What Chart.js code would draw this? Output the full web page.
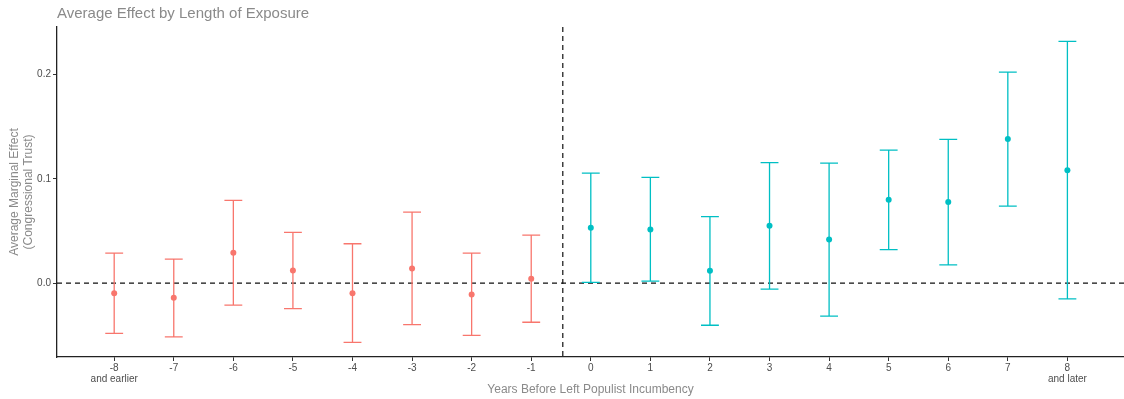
<!DOCTYPE html>
<html>
<head>
<meta charset="utf-8">
<script src="https://cdn.jsdelivr.net/npm/chart.js@4"></script>
<style>
  html, body { margin: 0; padding: 0; background: #fff; overflow: hidden; }
  #wrap { width: 1124px; height: 399px; }
</style>
</head>
<body>
<div id="wrap"><canvas id="effects"></canvas></div>
<script>
// years relative to incumbency start, point estimates and 95% bounds
var years = [-8, -7, -6, -5, -4, -3, -2, -1, 0, 1, 2, 3, 4, 5, 6, 7, 8]
var estimate = [-0.0096, -0.0140, 0.0291, 0.0122, -0.0096, 0.0141, -0.0108, 0.0042,
  0.0531, 0.0515, 0.0119, 0.0550, 0.0418, 0.0800, 0.0777, 0.1380, 0.1083]
var lower = [-0.0480, -0.0514, -0.0211, -0.0243, -0.0566, -0.0396, -0.0499, -0.0374,
  0.0007, 0.0019, -0.0403, -0.0057, -0.0316, 0.0322, 0.0176, 0.0738, -0.0150]
var upper = [0.0288, 0.0230, 0.0793, 0.0486, 0.0378, 0.0681, 0.0288, 0.0460,
  0.1055, 0.1013, 0.0637, 0.1154, 0.1150, 0.1275, 0.1378, 0.2022, 0.2317]
var xTickLabels = [['-8', 'and earlier'], '-7', '-6', '-5', '-4', '-3', '-2', '-1',
  '0', '1', '2', '3', '4', '5', '6', '7', ['8', 'and later']]
var yTickValues = [0, 0.1, 0.2]
var yTickLabels = ['0.0', '0.1', '0.2']
var cutoff = -0.47

var RED = '#F8766D'
var TEAL = '#00BFC4'
var GREY = '#8a8a8a'
var FONT = '"Liberation Sans", Arial, sans-serif'

function colorFor(year) { return year < 0 ? RED : TEAL }

var before = [], after = []
years.forEach(function (y, i) {
  (y < 0 ? before : after).push({ x: y, y: estimate[i] })
})

var errorBars = {
  id: 'errorBars',
  beforeDatasetsDraw: function (chart) {
    var ctx = chart.ctx, xs = chart.scales.x, ys = chart.scales.y, a = chart.chartArea
    ctx.save()
    // reference lines
    ctx.strokeStyle = '#111'
    ctx.lineWidth = 1.2
    ctx.setLineDash([5, 4])
    var y0 = ys.getPixelForValue(0)
    ctx.beginPath(); ctx.moveTo(a.left, y0); ctx.lineTo(a.right, y0); ctx.stroke()
    var xc = xs.getPixelForValue(cutoff)
    ctx.beginPath(); ctx.moveTo(xc, a.top); ctx.lineTo(xc, a.bottom); ctx.stroke()
    ctx.setLineDash([])
    // whiskers
    ctx.lineWidth = 1.3
    years.forEach(function (yr, i) {
      var x = xs.getPixelForValue(yr)
      var half = x - xs.getPixelForValue(yr - 0.15)
      var top = ys.getPixelForValue(upper[i])
      var bot = ys.getPixelForValue(lower[i])
      ctx.strokeStyle = colorFor(yr)
      ctx.beginPath()
      ctx.moveTo(x, top); ctx.lineTo(x, bot)
      ctx.moveTo(x - half, top); ctx.lineTo(x + half, top)
      ctx.moveTo(x - half, bot); ctx.lineTo(x + half, bot)
      ctx.stroke()
    })
    ctx.restore()
  },
  afterDraw: function (chart) {
    var ctx = chart.ctx, a = chart.chartArea
    ctx.save()
    ctx.fillStyle = GREY
    ctx.textBaseline = 'alphabetic'
    ctx.textAlign = 'left'
    ctx.font = '15px ' + FONT
    ctx.fillText('Average Effect by Length of Exposure', a.left, 18)
    ctx.font = '12px ' + FONT
    ctx.textAlign = 'center'
    ctx.fillText('Years Before Left Populist Incumbency', (a.left + a.right) / 2, 393)
    ctx.translate(0, (a.top + a.bottom) / 2)
    ctx.rotate(-Math.PI / 2)
    ctx.textBaseline = 'middle'
    ctx.fillText('Average Marginal Effect', 0, 15)
    ctx.fillText('(Congressional Trust)', 0, 29)
    ctx.restore()
  }
}

new Chart(document.getElementById('effects').getContext('2d'), {
  type: 'scatter',
  data: {
    datasets: [
      { data: before, backgroundColor: RED, borderColor: RED, pointRadius: 3, borderWidth: 0 },
      { data: after, backgroundColor: TEAL, borderColor: TEAL, pointRadius: 3, borderWidth: 0 }
    ]
  },
  options: {
    responsive: true,
    maintainAspectRatio: false,
    animation: false,
    layout: { autoPadding: false, padding: { top: 27, right: 0, left: 0, bottom: 0 } },
    scales: {
      x: {
        type: 'linear',
        min: -8.96,
        max: 8.95,
        afterFit: function (s) {
          s.height = 42
          s.paddingLeft = 0
          s.paddingRight = 0
        },
        afterBuildTicks: function (s) {
          s.ticks = years.map(function (v) { return { value: v } })
        },
        grid: { display: true, drawOnChartArea: false, tickLength: 4, color: '#333', tickWidth: 1 },
        border: { display: true, color: '#222', width: 1.3 },
        ticks: {
          padding: 1,
          color: '#4d4d4d',
          font: { size: 10, family: FONT, lineHeight: 1.15 },
          maxRotation: 0,
          autoSkip: false,
          callback: function (v) { return xTickLabels[years.indexOf(v)] }
        }
      },
      y: {
        min: -0.0707,
        max: 0.2454,
        afterFit: function (s) { s.width = 57 },
        afterBuildTicks: function (s) {
          s.ticks = yTickValues.map(function (v) { return { value: v } })
        },
        grid: { display: true, drawOnChartArea: false, tickLength: 4, color: '#333', tickWidth: 1 },
        border: { display: true, color: '#222', width: 1.3 },
        ticks: {
          padding: 2,
          color: '#4d4d4d',
          font: { size: 10, family: FONT },
          callback: function (v) { return yTickLabels[yTickValues.indexOf(v)] }
        }
      }
    },
    plugins: {
      legend: { display: false },
      tooltip: { enabled: false }
    }
  },
  plugins: [errorBars]
})
</script>
</body>
</html>
